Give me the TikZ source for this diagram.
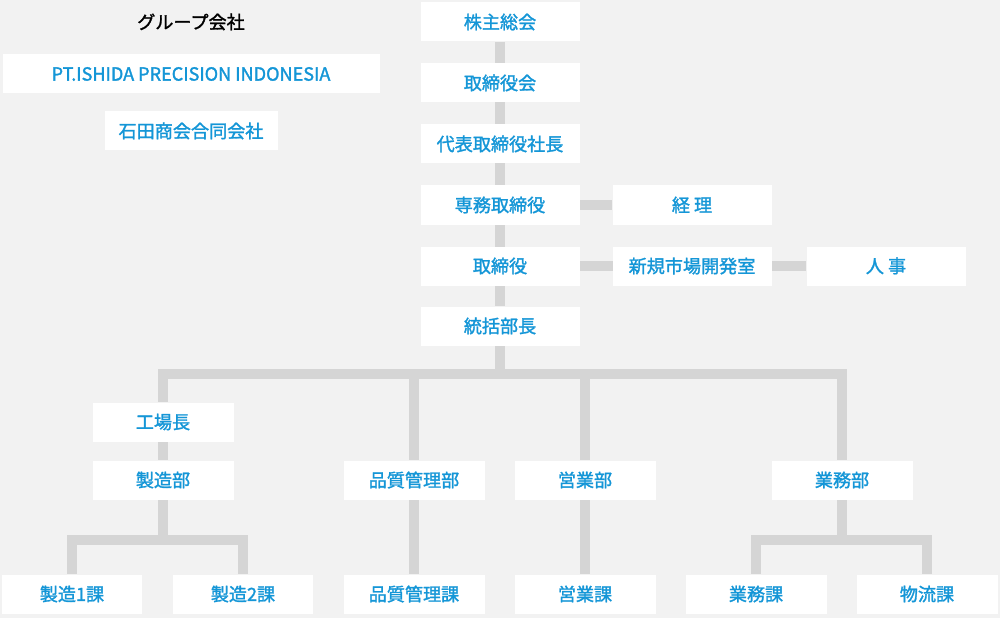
\documentclass[tikz,border=0pt]{standalone}
\usepackage{fontspec}
\setmainfont{Noto Sans CJK JP}[AutoFakeBold=1.6]
\usetikzlibrary{backgrounds}
\definecolor{orgblue}{RGB}{20,150,215}
\definecolor{linegray}{RGB}{213,213,213}
\definecolor{bggray}{RGB}{242,242,242}

\begin{document}
\begin{tikzpicture}[x=0.02cm, y=-0.02cm,
    every node/.style={font=\fontsize{10.3}{12}\selectfont\bfseries},
    post/.style={fill=white, text=orgblue, minimum width=159*0.02cm, minimum height=39*0.02cm, inner sep=0pt},
    unit/.style={post, minimum width=141*0.02cm},
    link/.style={draw=linegray, line width=5.6pt}]
    % group companies
    \node (group) at (191,22) {グループ会社};
    \node[post, minimum width=377*0.02cm] (pt) at (191,74) {PT.ISHIDA PRECISION INDONESIA};
    \node[post, minimum width=173*0.02cm] (shokai) at (191,131) {石田商会合同会社};

    % top management
    \node[post] (kabu) at (500,22) {株主総会};
    \node[post] (board) at (500,83) {取締役会};
    \node[post] (ceo) at (500,144) {代表取締役社長};
    \node[post] (senmu) at (500,205) {専務取締役};
    \node[post] (keiri) at (692,205) {経\ 理};
    \node[post] (tori) at (500,266) {取締役};
    \node[post] (shinki) at (692,266) {新規市場開発室};
    \node[post] (jinji) at (886,266) {人\ 事};
    \node[post] (gm) at (500,326) {統括部長};

    % departments
    \node[unit] (kojo) at (163,422) {工場長};
    \node[unit] (seizo) at (163,480) {製造部};
    \node[unit] (hinshitsu) at (414,480) {品質管理部};
    \node[unit] (eigyo) at (585,480) {営業部};
    \node[unit] (gyomu) at (842,480) {業務部};

    % sections
    \node[unit, minimum width=140*0.02cm] (s1) at (72,594) {製造1課};
    \node[unit, minimum width=140*0.02cm] (s2) at (243,594) {製造2課};
    \node[unit] (hk) at (414,594) {品質管理課};
    \node[unit] (ek) at (585,594) {営業課};
    \node[unit] (gk) at (756,594) {業務課};
    \node[unit] (bk) at (927,594) {物流課};

    \coordinate (bus) at (500,374);
    \coordinate (sbus) at (163,540);
    \coordinate (gbus) at (842,540);

    \begin{scope}[on background layer]
      \fill[bggray] (0,0) rectangle (1000,618);
      \draw[link] (kabu) -- (gm);
      \draw[link] (senmu) -- (keiri);
      \draw[link] (tori) -- (jinji);
      \draw[link] (gm) -- (bus);
      \draw[link] (bus) -| (kojo);
      \draw[link] (bus) -| (hinshitsu);
      \draw[link] (bus) -| (eigyo);
      \draw[link] (bus) -| (gyomu);
      \draw[link] (kojo) -- (seizo);
      \draw[link] (hinshitsu) -- (hk);
      \draw[link] (eigyo) -- (ek);
      \draw[link] (seizo) -- (sbus);
      \draw[link] (sbus) -| (s1);
      \draw[link] (sbus) -| (s2);
      \draw[link] (gyomu) -- (gbus);
      \draw[link] (gbus) -| (gk);
      \draw[link] (gbus) -| (bk);
    \end{scope}
\end{tikzpicture}
\end{document}
